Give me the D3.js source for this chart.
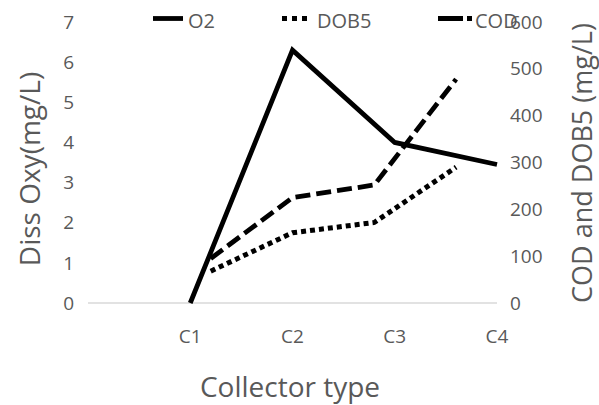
<!DOCTYPE html>
<html>
<head>
<meta charset="utf-8">
<script src="https://d3js.org/d3.v7.min.js"></script>
<style>
  body { margin: 0; background: #fff; }
  text { font-family: "Open Sans", Lato, sans-serif; fill: #595959; }
</style>
</head>
<body>
<svg width="599" height="405"></svg>
<script>
// primary categories (first slot is blank, points sit on tick marks)
const cats = ["", "C1", "C2", "C3", "C4"];
const o2 = [null, 0, 6.3, 4.0, 3.45];
// secondary axis series (placed between tick marks)
const dob5 = [null, 68, 150, 172, 290];
const cod = [null, 95, 225, 252, 478];
const leftTicks = [0, 1, 2, 3, 4, 5, 6, 7];
const rightTicks = [0, 100, 200, 300, 400, 500, 600];

const svg = d3.select("svg");
const plotL = 88, plotR = 497, plotT = 22, plotB = 303;

const x = d3.scalePoint().domain(cats).range([plotL, plotR]);
const x2 = d3.scalePoint().domain(cats).range([plotL, plotR]).padding(0.5);
const y = d3.scaleLinear().domain([0, 7]).range([plotB, plotT]);
const y2 = d3.scaleLinear().domain([0, 600]).range([plotB, plotT]);

// baseline
svg.append("line")
    .attr("x1", plotL).attr("x2", plotR)
    .attr("y1", y(0)).attr("y2", y(0))
    .attr("stroke", "#d9d9d9").attr("stroke-width", 1.3);

// left ticks
svg.append("g").selectAll("text").data(leftTicks).enter().append("text")
    .attr("x", 74).attr("y", d => y(d)).attr("dy", "0.35em")
    .attr("text-anchor", "end").style("font-size", "19px")
    .text(d => d);

// right ticks
svg.append("g").selectAll("text").data(rightTicks).enter().append("text")
    .attr("x", 510).attr("y", d => y2(d)).attr("dy", "0.35em")
    .attr("text-anchor", "start").style("font-size", "19px")
    .text(d => d);

// x labels
svg.append("g").selectAll("text").data(cats.filter(c => c)).enter().append("text")
    .attr("x", d => x(d)).attr("y", 336).attr("dy", "0.35em")
    .attr("text-anchor", "middle").style("font-size", "19px")
    .text(d => d);

// axis titles
svg.append("text").attr("transform", "translate(40,169) rotate(-90)")
    .attr("text-anchor", "middle").style("font-size", "28px").text("Diss Oxy(mg/L)");
svg.append("text").attr("transform", "translate(592,163) rotate(-90)")
    .attr("text-anchor", "middle").style("font-size", "27px").text("COD and DOB5 (mg/L)");
svg.append("text").attr("x", 290).attr("y", 397)
    .attr("text-anchor", "middle").style("font-size", "28px").text("Collector type");

const styles = {
  O2: { dash: null, w: 4.8 },
  DOB5: { dash: "5,4", w: 5 },
  COD: { dash: "15,6", w: 4.8 }
};

function draw(values, xs, ys, st) {
  const line = d3.line()
      .defined(d => d != null)
      .x((d, i) => xs(cats[i]))
      .y(d => ys(d));
  svg.append("path")
      .datum(values)
      .attr("d", line)
      .attr("fill", "none")
      .attr("stroke", "#000")
      .attr("stroke-width", st.w)
      .attr("stroke-linejoin", "miter")
      .attr("stroke-dasharray", st.dash);
}
draw(dob5, x2, y2, styles.DOB5);
draw(cod, x2, y2, styles.COD);
draw(o2, x, y, styles.O2);

// legend
const legend = [
  { name: "O2", x: 153 },
  { name: "DOB5", x: 282 },
  { name: "COD", x: 438 }
];
const lg = svg.append("g").selectAll("g").data(legend).enter().append("g");
lg.append("line")
    .attr("x1", d => d.x).attr("x2", d => d.x + (d.name === "COD" ? 34 : 30))
    .attr("y1", 18.5).attr("y2", 18.5)
    .attr("stroke", "#000")
    .attr("stroke-width", d => styles[d.name].w)
    .attr("stroke-dasharray", d => d.name === "DOB5" ? "5,5" : d.name === "COD" ? "25,4" : null);
lg.append("text")
    .attr("x", d => d.x + (d.name === "COD" ? 37 : 35)).attr("y", 28)
    .style("font-size", "20px")
    .text(d => d.name);
</script>
</body>
</html>
